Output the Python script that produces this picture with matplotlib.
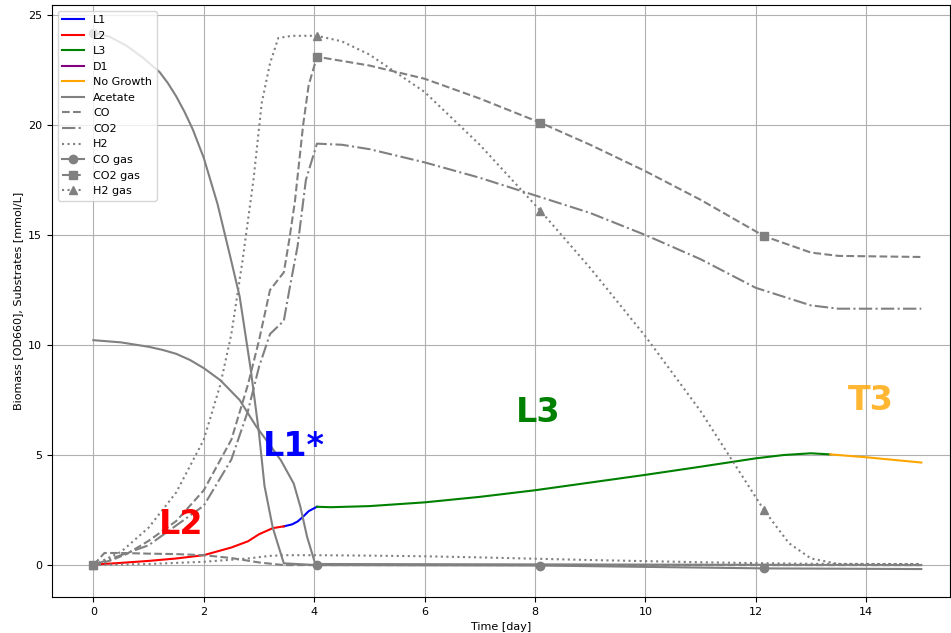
import matplotlib.pyplot as plt

plt.rcParams['font.size'] = 8

# biomass phases
t_l2 = [0, 0.5, 1.0, 1.5, 2.0, 2.5, 2.8, 3.0, 3.25, 3.45]
y_l2 = [0.02, 0.1, 0.19, 0.3, 0.45, 0.8, 1.08, 1.4, 1.68, 1.76]
t_l1 = [3.45, 3.6, 3.7, 3.8, 3.9, 4.05]
y_l1 = [1.76, 1.85, 1.98, 2.2, 2.45, 2.65]
t_l3 = [4.05, 4.3, 5, 6, 7, 8, 9, 10, 11, 12, 12.5, 13, 13.35]
y_l3 = [2.65, 2.63, 2.68, 2.85, 3.1, 3.4, 3.75, 4.1, 4.47, 4.85, 5.0, 5.08, 5.03]
t_ng = [13.35, 14, 15]
y_ng = [5.03, 4.9, 4.66]

# substrates (liquid)
t_ace = [0, 0.5, 1.0, 1.25, 1.5, 1.75, 2.0, 2.3, 2.65, 2.95, 3.2, 3.4, 3.63, 3.75, 3.87, 4.02, 15]
y_ace = [10.22, 10.12, 9.92, 9.78, 9.6, 9.32, 8.95, 8.4, 7.5, 6.3, 5.45, 4.75, 3.7, 2.65, 1.3, 0.05, 0.0]
t_co = [0, 0.2, 0.5, 1.0, 1.5, 2.0, 2.5, 3.0, 3.45, 15]
y_co = [0, 0.55, 0.55, 0.52, 0.5, 0.45, 0.32, 0.12, 0.0, 0.0]
t_co2 = [0, 1.0, 2.0, 2.5, 2.8, 3.0, 3.2, 3.45, 3.55, 3.7, 3.85, 4.05, 4.5, 5, 6, 7, 8, 9, 10, 11, 12, 13, 13.5, 15]
y_co2 = [0, 0.9, 2.7, 4.8, 7.0, 9.0, 10.5, 11.1, 12.5, 14.5, 17.5, 19.15, 19.1, 18.9, 18.3, 17.6, 16.8,
         16.0, 15.0, 13.9, 12.6, 11.8, 11.65, 11.65]
t_h2 = [0, 1, 2, 2.8, 3.2, 3.5, 4, 5, 6, 7, 8, 9, 10, 11, 12, 13, 15]
y_h2 = [0, 0.05, 0.15, 0.3, 0.42, 0.45, 0.45, 0.43, 0.4, 0.35, 0.29, 0.23, 0.18, 0.13, 0.09, 0.06, 0.04]

# gas phase
t_cog = [0, 0.3, 0.6, 0.9, 1.2, 1.35, 1.5, 1.65, 1.8, 2.0, 2.25, 2.5, 2.65, 2.85, 3.0, 3.1, 3.25, 3.45,
         4.05, 8.1, 12.15, 15]
y_cog = [24.2, 24.0, 23.6, 23.05, 22.4, 21.9, 21.3, 20.6, 19.8, 18.5, 16.4, 13.8, 12.2, 8.9, 6.0, 3.6, 1.7,
         0.08, 0.0, -0.02, -0.15, -0.18]
t_co2g = [0, 0.3, 0.6, 1.0, 1.5, 2.0, 2.5, 2.8, 3.0, 3.2, 3.45, 3.55, 3.65, 3.8, 3.9, 4.05, 5, 6, 7, 8.1,
          9, 10, 11, 12.15, 13, 13.5, 15]
y_co2g = [0, 0.2, 0.5, 1.1, 2.0, 3.4, 5.7, 8.2, 10.2, 12.5, 13.3, 14.8, 16.5, 20.0, 21.8, 23.1, 22.7,
          22.1, 21.2, 20.1, 19.1, 17.9, 16.6, 14.95, 14.2, 14.05, 14.0]
t_h2g = [0, 0.5, 1.0, 1.5, 2.0, 2.3, 2.5, 2.7, 2.9, 3.05, 3.2, 3.35, 3.6, 4.05, 4.5, 5, 6, 7, 8.1, 9, 10,
         11, 12.15, 12.6, 13, 13.5, 15]
y_h2g = [0, 0.6, 1.7, 3.3, 5.7, 8.2, 10.5, 13.8, 17.5, 21.0, 22.8, 23.95, 24.05, 24.05, 23.8, 23.2, 21.5,
         19.1, 16.1, 13.5, 10.4, 7.0, 2.5, 1.0, 0.3, 0.05, 0.05]

marker_times = [0, 4.05, 8.1, 12.15]


def mark_idx(t):
    return [i for i, v in enumerate(t) if v in marker_times]


fig, ax = plt.subplots(figsize=(9.51, 6.33), dpi=100)
fig.subplots_adjust(left=52 / 951, right=950 / 951, bottom=36 / 633, top=628 / 633)

ax.plot(t_l1, y_l1, color='blue', label='L1')
ax.plot(t_l2, y_l2, color='red', label='L2')
ax.plot(t_l3, y_l3, color='green', label='L3')
ax.plot([], [], color='purple', label='D1')
ax.plot(t_ng, y_ng, color='orange', label='No Growth')

ax.plot(t_ace, y_ace, color='gray', linestyle='-', label='Acetate')
ax.plot(t_co, y_co, color='gray', linestyle='--', label='CO')
ax.plot(t_co2, y_co2, color='gray', linestyle='-.', label='CO2')
ax.plot(t_h2, y_h2, color='gray', linestyle=':', label='H2')

ax.plot(t_cog, y_cog, color='gray', linestyle='-', marker='o', markevery=mark_idx(t_cog), label='CO gas')
ax.plot(t_co2g, y_co2g, color='gray', linestyle='--', marker='s', markevery=mark_idx(t_co2g), label='CO2 gas')
ax.plot(t_h2g, y_h2g, color='gray', linestyle=':', marker='^', markevery=mark_idx(t_h2g), label='H2 gas')

ax.text(1.585, 1.86, 'L2', color='red', fontsize=24, fontweight='bold', ha='center', va='center')
ax.text(3.64, 5.4, 'L1*', color='blue', fontsize=24, fontweight='bold', ha='center', va='center')
ax.text(8.06, 6.95, 'L3', color='green', fontsize=24, fontweight='bold', ha='center', va='center')
ax.text(14.09, 7.48, 'T3', color='orange', alpha=0.8, fontsize=24, fontweight='bold', ha='center', va='center')

ax.set_xlim(-0.75, 15.52)
ax.set_ylim(-1.45, 25.45)
ax.set_xlabel('Time [day]')
ax.set_ylabel('Biomass [OD660], Substrates [mmol/L]')
ax.grid(True)
ax.legend(loc='upper left')

plt.savefig('out.png')
